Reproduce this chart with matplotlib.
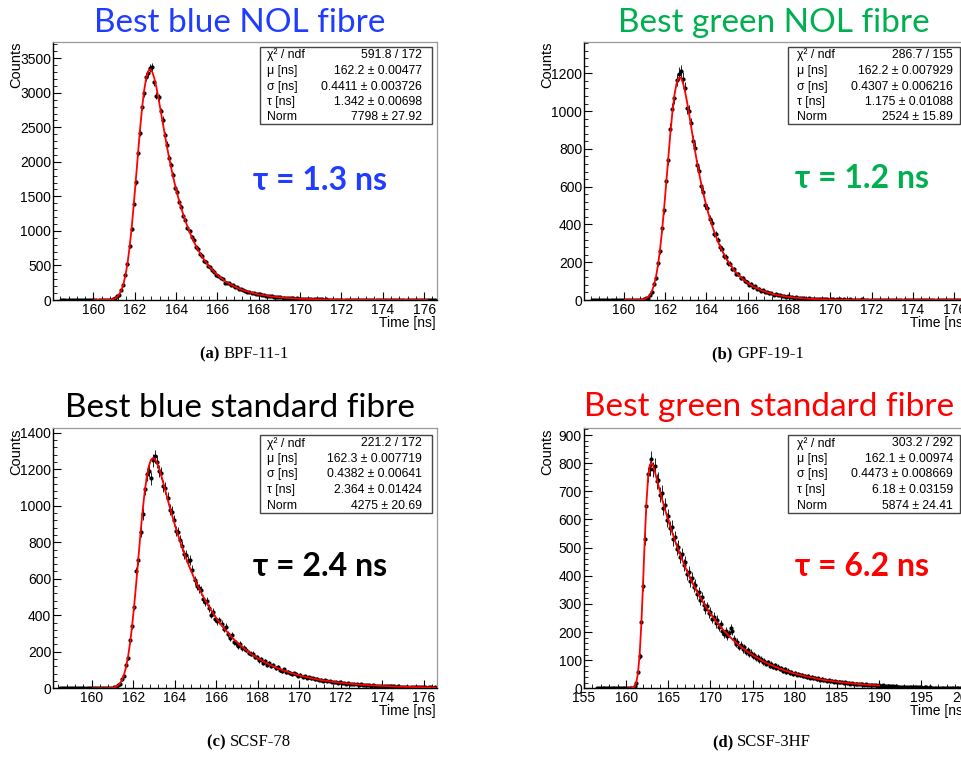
import numpy as np
import matplotlib.pyplot as plt
from matplotlib.patches import Rectangle
from matplotlib.ticker import MultipleLocator

W, H = 961, 757

plt.rcParams['font.family'] = ['Liberation Sans', 'DejaVu Sans']

# ---- data ----
# a, b, c: 0.1 ns bins, first bin centre 158.45 ns; fit curves start at 160.05 ns
counts_a = [0] * 24 + [
    5, 14, 22, 51, 76, 146, 221, 368, 524, 778,
    1031, 1392, 1702, 2128, 2421, 2800, 2998, 3235, 3289, 3352,
    3380, 3160, 2958, 2935, 2731, 2608, 2390, 2251, 2051, 1948,
    1812, 1628, 1566, 1421, 1349, 1218, 1160, 1041, 1001, 905,
    873, 770, 745, 672, 640, 571, 552, 498, 476, 428,
    412, 366, 351, 318, 304, 251, 249, 246, 218, 210,
    188, 181, 161, 156, 138, 135, 119, 117, 102, 100,
    88, 86, 80, 70, 69, 61, 62, 52, 55, 44,
    46, 38, 39, 33, 34, 28, 30, 25, 26, 21,
    22, 18, 19, 15, 16, 13, 14, 11, 12, 9,
    11, 8, 9, 7, 8, 6, 5, 6, 4, 5,
    4, 5, 3, 4, 2, 3, 3, 2, 1, 3, 2, 1, 2,
    2, 1, 0, 2, 1, 1, 0, 1, 2, 0, 1, 1, 0, 0, 1, 0,
    1, 0, 0, 1, 0, 0, 1, 0, 0, 0, 1, 0, 0, 0, 0, 1, 0, 0, 0]
fit_a = [
    0, 0, 0.02, 0.07, 0.2, 0.5, 1.2, 2.7, 5.9, 12,
    24, 45, 81, 139, 228, 356, 531, 761, 1042, 1369,
    1727, 2096, 2449, 2766, 3024, 3207, 3312, 3341, 3302, 3208,
    3076, 2919, 2748, 2574, 2402, 2236, 2078, 1931, 1794, 1665,
    1545, 1434, 1331, 1236, 1147, 1065, 988, 917, 851, 790,
    733, 681, 632, 586, 544, 505, 469, 435, 404, 375,
    348, 323, 300, 278, 258, 240, 223, 207, 192, 178,
    165, 153, 142, 132, 123, 114, 106, 98, 91, 84,
    78, 73, 68, 63, 58, 54, 50, 47, 43, 40,
    37, 35, 32, 30, 28, 26, 24, 22, 21, 19,
    18, 16, 15, 14, 13, 12, 11, 10, 10, 9,
    8, 8, 7, 6, 6, 5, 5, 5, 4, 4,
    4, 3.4, 3.2, 2.9, 2.7, 2.5, 2.3, 2.2, 2.0, 1.9,
    1.7, 1.6, 1.5, 1.4, 1.3, 1.2, 1.1, 1.0, 0.95, 0.88,
    0.8, 0.75, 0.7, 0.65, 0.6, 0.55, 0.5, 0.47, 0.44, 0.4,
    0.38, 0.35, 0.32, 0.3, 0.28, 0.26, 0.24, 0.22, 0.2, 0.19,
    0.18, 0.16]

counts_b = [0] * 24 + [
    2, 3, 9, 12, 28, 41, 83, 115, 195, 259,
    381, 476, 632, 741, 905, 1010, 1072, 1165, 1198, 1210,
    1172, 1120, 1015, 1003, 935, 842, 806, 713, 681, 601,
    572, 505, 487, 428, 410, 352, 347, 318, 278, 270,
    233, 228, 196, 192, 166, 162, 139, 137, 118, 116,
    99, 97, 82, 84, 69, 72, 58, 60, 49, 51,
    41, 43, 35, 36, 29, 31, 25, 26, 21, 22,
    18, 19, 14, 16, 12, 14, 10, 12, 8, 10,
    7, 9, 7, 5, 7, 6, 5, 6, 3, 5,
    4, 2, 3, 4, 2, 3, 5, 2, 3, 1,
    2, 3, 2, 1, 2, 2, 1, 3, 1, 2,
    1, 1, 2, 0, 1, 2, 1, 1, 0, 1,
    1, 0, 2, 1, 0, 1, 1, 0, 1, 0,
    0, 1, 0, 1, 0, 0, 1, 0, 0, 1,
    0, 0, 0, 1, 0, 0, 0, 0, 1, 0,
    0, 0, 0, 1, 0, 0, 0, 0]
fit_b = [
    0, 0, 0, 0, 0.03, 0.1, 0.3, 0.75, 1.7, 3.6,
    7.3, 14, 26, 46, 76, 121, 184, 267, 369, 488,
    619, 754, 882, 995, 1086, 1146, 1176, 1177, 1154, 1111,
    1054, 990, 922, 854, 788, 726, 668, 614, 564, 518,
    476, 437, 401, 369, 339, 311, 286, 262, 241, 221,
    203, 187, 171, 157, 145, 133, 122, 112, 103, 94,
    87, 80, 73, 67, 62, 57, 52, 48, 44, 40,
    37, 34, 31, 29, 26, 24, 22, 20, 19, 17,
    16, 14, 13, 12, 11, 10, 9, 8, 8, 7,
    6, 6, 5, 5, 4, 4, 4, 3, 3, 3,
    2.5, 2.3, 2.1, 1.9, 1.8, 1.6, 1.5, 1.4, 1.2, 1.1,
    1.0, 0.9, 0.85, 0.78, 0.7, 0.65, 0.6, 0.55, 0.5, 0.46,
    0.42, 0.39, 0.36, 0.33, 0.3, 0.27, 0.25, 0.23, 0.21, 0.19,
    0.18, 0.16, 0.15, 0.14, 0.13, 0.12, 0.11, 0.1, 0.09, 0.08,
    0.07, 0.07, 0.06, 0.06, 0.05, 0.05, 0.04, 0.04, 0.04, 0.03,
    0.03, 0.03, 0.02, 0.02, 0.02, 0.02, 0.02, 0.01, 0.01, 0.01,
    0.01, 0.01, 0.01, 0.01, 0.01, 0.01]

counts_c = [0] * 25 + [
    2, 5, 6, 16, 23, 49, 70, 128, 168, 262,
    341, 448, 640, 700, 858, 955, 1092, 1172, 1190, 1150,
    1248, 1270, 1242, 1191, 1178, 1108, 1097, 1042, 978, 968,
    921, 862, 856, 812, 781, 733, 728, 697, 703, 648,
    591, 562, 548, 536, 489, 470, 478, 441, 404, 418,
    380, 366, 372, 353, 325, 338, 298, 274, 291, 254,
    248, 232, 241, 219, 221, 212, 196, 188, 190, 172,
    171, 153, 158, 141, 147, 130, 138, 121, 127, 109,
    118, 102, 96, 103, 88, 92, 84, 78, 82, 77,
    70, 74, 63, 67, 58, 61, 54, 57, 49, 52,
    44, 47, 41, 45, 38, 40, 36, 33, 36, 30,
    34, 28, 29, 26, 28, 23, 25, 22, 24, 20,
    21, 17, 20, 17, 19, 15, 17, 14, 15, 12,
    14, 11, 13, 10, 12, 10, 11, 9, 10, 8,
    9, 8, 7, 9, 6, 8, 6, 7, 5, 7,
    5, 6, 4, 5, 6, 4, 5]
fit_c = [
    0, 0, 0, 0.01, 0.02, 0.05, 0.14, 0.35, 0.8,
    1.8, 3.7, 7.4, 14, 26, 44, 73, 115, 174, 251,
    347, 460, 586, 719, 850, 971, 1076, 1158, 1217, 1251,
    1262, 1255, 1233, 1202, 1164, 1123, 1080, 1037, 995, 955,
    915, 877, 841, 806, 773, 741, 710, 681, 652, 625,
    599, 575, 551, 528, 506, 485, 465, 446, 427, 410,
    393, 376, 361, 346, 332, 318, 305, 292, 280, 268,
    257, 247, 236, 227, 217, 208, 200, 191, 183, 176,
    168, 161, 155, 148, 142, 136, 131, 125, 120, 115,
    110, 106, 101, 97, 93, 89, 86, 82, 79, 75,
    72, 69, 66, 64, 61, 58, 56, 54, 51, 49,
    47, 45, 43, 42, 40, 38, 37, 35, 34, 32,
    31, 30, 28, 27, 26, 25, 24, 23, 22, 21,
    20, 19, 19, 18, 17, 16, 16, 15, 14, 14,
    13, 13, 12, 12, 11, 11, 10, 10, 9, 9,
    9, 8, 8, 8, 7, 7, 7, 6, 6, 6,
    6, 5, 5, 5, 5, 5, 4]

# d: 0.2 ns bins, first bin centre 156.6 ns; fit curve starts at 160.2 ns
counts_d = [0] * 20 + [
    0, 2, 7, 18, 58, 115, 236, 365, 532, 649, 760, 781, 815, 778, 790, 735, 740,
    688, 695, 642, 651, 598, 612, 570, 574, 530, 537,
    495, 503, 468, 476, 437, 449, 405, 414, 380, 392,
    361, 368, 336, 341, 315, 324, 296, 281, 291, 266,
    272, 248, 255, 231, 244, 218, 229, 204, 192, 205,
    186, 195, 214, 205, 176, 158, 166, 147, 154, 139,
    145, 128, 136, 121, 127, 114, 119, 107, 112, 99,
    104, 94, 98, 88, 92, 81, 86, 77, 82, 72,
    76, 68, 71, 63, 67, 59, 63, 56, 59, 52,
    55, 49, 52, 46, 48, 43, 45, 40, 43, 38,
    40, 35, 38, 33, 35, 31, 33, 29, 30, 27,
    29, 25, 27, 24, 26, 22, 24, 21, 22, 20,
    21, 18, 20, 17, 18, 16, 17, 15, 16, 14,
    15, 13, 14, 12, 13, 11, 12, 10, 12, 9,
    11, 9, 10, 8, 9, 8, 7, 8, 7, 6, 7,
    6, 5, 6, 5, 5, 4, 5, 4, 4, 3, 4,
    3, 3, 4, 3, 2, 3, 3, 2, 3, 2, 2,
    1, 2, 2, 1, 2, 1, 1, 2, 1, 1, 1,
    0, 1, 1, 0, 1, 0, 1, 0, 0, 1]
fit_d = [
    0, 0.05, 0.4, 1.7, 6.5, 20.5, 54, 121, 229, 372, 525, 658, 749, 793, 802,
    791, 770, 747, 724,
    701, 678, 657, 636, 616, 596, 577, 559, 541, 524,
    507, 491, 475, 460, 445, 431, 417, 404, 391, 379,
    367, 355, 344, 333, 322, 312, 302, 292, 283, 274,
    265, 257, 248, 240, 233, 225, 218, 211, 205, 198,
    192, 186, 180, 174, 169, 163, 158, 153, 148, 143,
    139, 134, 130, 126, 122, 118, 114, 111, 107, 104,
    100, 97, 94, 91, 88, 85, 83, 80, 78, 75,
    73, 70, 68, 66, 64, 62, 60, 58, 56, 54,
    53, 51, 49, 48, 46, 45, 43, 42, 41, 39,
    38, 37, 36, 35, 33, 32, 31, 30, 29, 28,
    28, 27, 26, 25, 24, 23, 23, 22, 21, 21,
    20, 19, 19, 18, 17, 17, 16, 16, 15, 15,
    14, 14, 13, 13, 12, 12, 12, 11, 11, 10, 10]

stat_names = ["χ² / ndf", "μ [ns]", "σ [ns]", "τ [ns]", "Norm"]
stats_a = ["591.8 / 172", "162.2 ± 0.00477", "0.4411 ± 0.003726", "1.342 ± 0.00698", "7798 ± 27.92"]
stats_b = ["286.7 / 155", "162.2 ± 0.007929", "0.4307 ± 0.006216", "1.175 ± 0.01088", "2524 ± 15.89"]
stats_c = ["221.2 / 172", "162.3 ± 0.007719", "0.4382 ± 0.00641", "2.364 ± 0.01424", "4275 ± 20.69"]
stats_d = ["303.2 / 292", "162.1 ± 0.00974", "0.4473 ± 0.008669", "6.18 ± 0.03159", "5874 ± 24.41"]

titles = ["Best blue NOL fibre", "Best green NOL fibre", "Best blue standard fibre", "Best green standard fibre"]
taus = ["τ = 1.3 ns", "τ = 1.2 ns", "τ = 2.4 ns", "τ = 6.2 ns"]
captions = [("(a)", "BPF-11-1"), ("(b)", "GPF-19-1"), ("(c)", "SCSF-78"), ("(d)", "SCSF-3HF")]
title_colors = ["#1f3cff", "#00b050", "black", "#ff0000"]
tau_colors = ["#1f3cff", "#00b050", "black", "#ff0000"]


def px_axes(fig, l, t, r, b):
    return fig.add_axes([l / W, 1 - b / H, (r - l) / W, (b - t) / H])


def ftext(fig, x, y, s, **kw):
    return fig.text(x / W, 1 - y / H, s, **kw)


def draw_panel(fig, box, counts, t0, bw, fit, f0, xlim, ylim, xmaj, xmin, ymaj, ymin):
    ax = px_axes(fig, *box)
    c = np.array(counts, dtype=float)
    t = t0 + bw * np.arange(len(c))
    ax.errorbar(t, c, yerr=np.sqrt(c), xerr=bw / 2, fmt='o', ms=2.0,
                mfc='black', mec='black', ecolor='#222222', elinewidth=0.7,
                capsize=0, zorder=2)
    tf = f0 + bw * np.arange(len(fit))
    ax.plot(tf, fit, color='red', lw=1.3, zorder=3)
    ax.set_xlim(*xlim)
    ax.set_ylim(*ylim)
    ax.xaxis.set_major_locator(MultipleLocator(xmaj))
    ax.xaxis.set_minor_locator(MultipleLocator(xmin))
    ax.yaxis.set_major_locator(MultipleLocator(ymaj))
    ax.yaxis.set_minor_locator(MultipleLocator(ymin))
    ax.tick_params(which='both', direction='in', top=False, right=False,
                   labelsize=10, colors='black')
    ax.tick_params(which='major', length=6, width=0.8)
    ax.tick_params(which='minor', length=3, width=0.6)
    ax.tick_params(axis='x', pad=2)
    ax.tick_params(axis='y', pad=1.5)
    for s in ['left', 'bottom']:
        ax.spines[s].set_color('black')
        ax.spines[s].set_linewidth(1.0)
    for s in ['top', 'right']:
        ax.spines[s].set_color('#999999')
        ax.spines[s].set_linewidth(0.9)
    ax.xaxis.set_major_formatter(lambda v, p: f"{v:.0f}")
    ax.yaxis.set_major_formatter(lambda v, p: f"{v:.0f}")
    return ax


def stat_box(fig, l, t, r, b, values, rows_y, xl, xr):
    fig.add_artist(Rectangle((l / W, 1 - b / H), (r - l) / W, (b - t) / H,
                             transform=fig.transFigure, facecolor='white',
                             edgecolor='#444444', lw=1.0, zorder=5))
    for name, val, y in zip(stat_names, values, rows_y):
        ftext(fig, xl, y, name, fontsize=8.8, ha='left', va='center', zorder=6)
        ftext(fig, xr, y, val, fontsize=8.8, ha='right', va='center', zorder=6)


fig = plt.figure(figsize=(W / 100, H / 100), dpi=100)

boxes = [(53.3, 41.7, 436.7, 300), (584.3, 42, 967.7, 300),
         (53.3, 428.3, 436.7, 688.3), (584, 428.3, 967.7, 688.3)]

draw_panel(fig, boxes[0], counts_a, 158.45, 0.1, fit_a, 160.05,
           (158.06, 176.61), (0, 3740), 2, 0.4, 500, 100)
draw_panel(fig, boxes[1], counts_b, 158.45, 0.1, fit_b, 160.05,
           (158.08, 176.66), (0, 1366), 2, 0.4, 200, 40)
draw_panel(fig, boxes[2], counts_c, 158.45, 0.1, fit_c, 160.05,
           (158.15, 176.61), (0, 1424), 2, 0.4, 200, 40)
draw_panel(fig, boxes[3], counts_d, 156.6, 0.2, fit_d, 160.2,
           (155.0, 200.5), (0, 924), 5, 1, 100, 20)

# axis titles
for (l, t, r, b) in boxes:
    ftext(fig, l - 37, t, "Counts", rotation=90, fontsize=10.5, ha='center', va='top')
    ftext(fig, r - 1.5, b + 23, "Time [ns]", fontsize=10, ha='right', va='center')

# stat boxes
rows_top = [55, 71, 86.7, 101.7, 117.3]
rows_bot = [443.3, 459, 474.3, 490, 505.7]
stat_box(fig, 260, 46.7, 431.7, 124.3, stats_a, rows_top, 266.7, 421.7)
stat_box(fig, 788, 46.7, 960, 124.3, stats_b, rows_top, 796.7, 953)
stat_box(fig, 260, 435, 432, 512.7, stats_c, rows_bot, 266.7, 421.7)
stat_box(fig, 788, 435, 960, 513, stats_d, rows_bot, 796.7, 953)

# slide titles
title_pos = [(240, 31.7), (773.5, 31.7), (240, 417.3), (769.5, 416)]
for s, (x, y), col in zip(titles, title_pos, title_colors):
    ftext(fig, x, y, s, fontsize=24, color=col, ha='center', va='baseline',
          family=['Lato', 'DejaVu Sans'])

tau_pos = [(320, 180), (862, 178), (320, 567), (862, 567)]
for s, (x, y), col in zip(taus, tau_pos, tau_colors):
    ftext(fig, x, y, s, fontsize=23, color=col, ha='center', va='center',
          fontweight='bold', family=['Lato', 'DejaVu Sans'], zorder=6)

# captions under each panel
cap_pos = [(224, 354), (737, 354), (230, 742), (737, 742)]
for (lab, name), (x, y) in zip(captions, cap_pos):
    ftext(fig, x, y, lab + " ", fontsize=12, fontweight='bold', ha='right',
          va='center', family='Liberation Serif')
    ftext(fig, x, y, name, fontsize=12, ha='left', va='center', family='Liberation Serif')

fig.savefig("out.png", dpi=100)
